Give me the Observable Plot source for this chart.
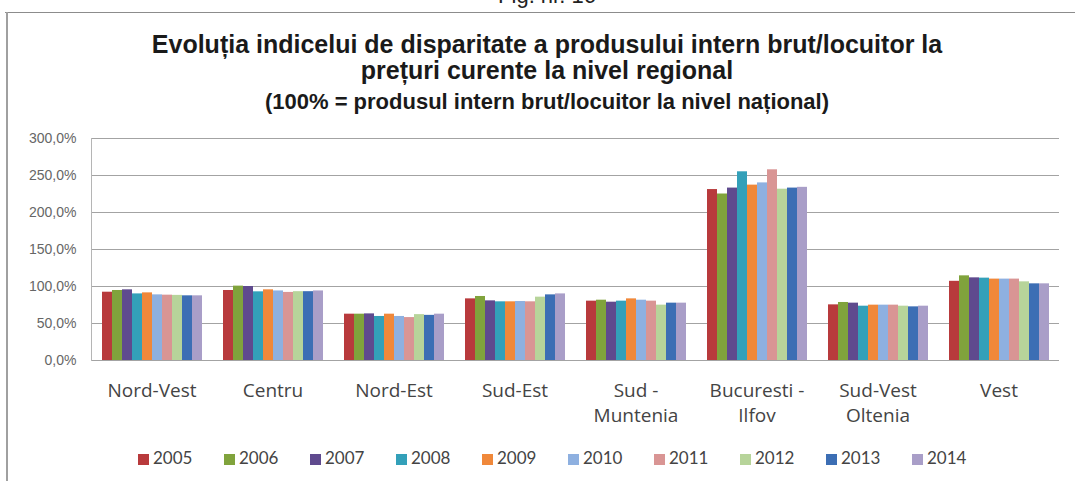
<!DOCTYPE html>
<html>
<head>
<meta charset="utf-8">
<script src="https://cdn.jsdelivr.net/npm/d3@7"></script>
<script src="https://cdn.jsdelivr.net/npm/@observablehq/plot@0.6"></script>
<style>
  html, body { margin: 0; padding: 0; background: #fff; }
  #page { position: relative; width: 1075px; height: 481px; overflow: hidden; background: #fff; }
  .abs { position: absolute; }
  #fig { top: -14.6px; left: 0; width: 1094px; text-align: center; font: 22px "Liberation Sans", Arial, sans-serif; color: #222; line-height: 22px; }
  #frameTop { top: 12px; left: 5px; width: 1070px; height: 0; border-top: 1.5px solid #8c8c8c; }
  #frameLeft { top: 12px; left: 6px; width: 0; height: 470px; border-left: 2px solid #a0a0a0; }
  .t { left: 0; width: 1094px; text-align: center; font-family: "Liberation Sans", Arial, sans-serif; font-weight: bold; color: #1a1a1a; white-space: nowrap; }
  #t1 { top: 29px; font-size: 25px; line-height: 30px; }
  #t2 { top: 55px; font-size: 25px; line-height: 30px; }
  #t3 { top: 88px; font-size: 22px; line-height: 28px; }
  #chart { top: 120px; left: 0; }
  #legend { top: 447px; left: 138px; font-family: Lato, "Liberation Sans", sans-serif; font-size: 17px; color: #444; white-space: nowrap; }
  .li { display: inline-block; width: 86px; line-height: 20px; }
  .sw { display: inline-block; width: 11px; height: 11px; margin-right: 4px; vertical-align: -1px; }
</style>
</head>
<body>
<div id="page">
  <div id="fig" class="abs">Fig. nr. 16</div>
  <div id="frameTop" class="abs"></div>
  <div id="frameLeft" class="abs"></div>
  <div id="t1" class="abs t">Evoluția indicelui de disparitate a produsului intern brut/locuitor la</div>
  <div id="t2" class="abs t">prețuri curente la nivel regional</div>
  <div id="t3" class="abs t">(100% = produsul  intern brut/locuitor la nivel național)</div>
  <div id="chart" class="abs"></div>
  <div id="legend" class="abs"></div>
</div>
<script>
const regions = ["Nord-Vest", "Centru", "Nord-Est", "Sud-Est", "Sud -\nMuntenia", "Bucuresti -\nIlfov", "Sud-Vest\nOltenia", "Vest"];
const years = ["2005", "2006", "2007", "2008", "2009", "2010", "2011", "2012", "2013", "2014"];
const colors = ["#b83a3c", "#80a33c", "#5f4a8e", "#33a0b9", "#f0883a", "#8eb0e0", "#d99594", "#b7d49a", "#3c6eb4", "#a99ec8"];
const yTicks = [0, 50, 100, 150, 200, 250, 300];

// values per region, one per year 2005..2014 (percent)
const nordVest      = [92.3, 94.6, 95.5, 90.0, 91.4, 88.7, 88.3, 88.0, 87.4, 87.4];
const centru        = [94.6, 100.5, 100.0, 92.8, 95.5, 94.0, 92.0, 93.0, 93.0, 94.0];
const nordEst       = [62.6, 62.6, 63.0, 59.5, 62.6, 59.5, 58.0, 62.0, 61.0, 62.6];
const sudEst        = [83.3, 86.5, 80.6, 79.3, 79.3, 79.7, 79.3, 85.6, 88.7, 90.0];
const sudMuntenia   = [80.2, 81.5, 78.8, 80.2, 83.3, 81.5, 80.2, 74.8, 77.5, 77.5];
const bucurestiIlfov= [231.0, 225.0, 233.0, 255.0, 237.0, 240.0, 257.7, 231.5, 233.0, 234.0];
const sudVestOltenia= [75.2, 78.4, 77.5, 73.4, 74.8, 74.8, 74.8, 73.4, 72.5, 73.4];
const vest          = [107.0, 114.4, 111.7, 111.3, 110.0, 110.0, 110.0, 106.3, 103.6, 103.6];

const seriesByRegion = [nordVest, centru, nordEst, sudEst, sudMuntenia, bucurestiIlfov, sudVestOltenia, vest];
const data = [];
regions.forEach((r, i) => years.forEach((y, j) => data.push({region: r, year: y, value: seriesByRegion[i][j]})));

const fmt = d => d.toFixed(1).replace(".", ",") + "%";

const chart = Plot.plot({
  width: 1075,
  height: 310,
  marginTop: 18,
  marginBottom: 70,
  marginLeft: 90,
  marginRight: 15,
  style: {background: "transparent", overflow: "visible"},
  fx: {domain: regions, paddingInner: 0, paddingOuter: 0},
  x: {domain: years, paddingInner: 0, paddingOuter: 0.72, axis: null},
  y: {domain: [0, 300], axis: null},
  color: {domain: years, range: colors},
  marks: [
    Plot.ruleY(yTicks, {y: d => d, stroke: "#a3a3a3", strokeWidth: 1}),
    Plot.frame({anchor: "left", facetAnchor: "left", stroke: "#b5b5b5"}),
    Plot.barY(data, {fx: "region", x: "year", y: "value", fill: "year", inset: 0}),
    Plot.axisY({ticks: yTicks, tickFormat: fmt, tickSize: 0, tickPadding: 15,
      fontSize: 14, fontFamily: "Liberation Sans, Arial, sans-serif", fill: "#666", label: null, anchor: "left"}),
    Plot.axisFx({anchor: "bottom", tickSize: 0, tickPadding: 19, fontSize: 19, lineHeight: 1.32,
      fontFamily: "Open Sans, Lato, sans-serif", fill: "#444", label: null})
  ]
});
document.getElementById("chart").appendChild(chart);

const legend = document.getElementById("legend");
years.forEach((y, i) => {
  const item = document.createElement("span");
  item.className = "li";
  const sw = document.createElement("span");
  sw.className = "sw";
  sw.style.background = colors[i];
  item.appendChild(sw);
  item.appendChild(document.createTextNode(y));
  legend.appendChild(item);
});
</script>
</body>
</html>
